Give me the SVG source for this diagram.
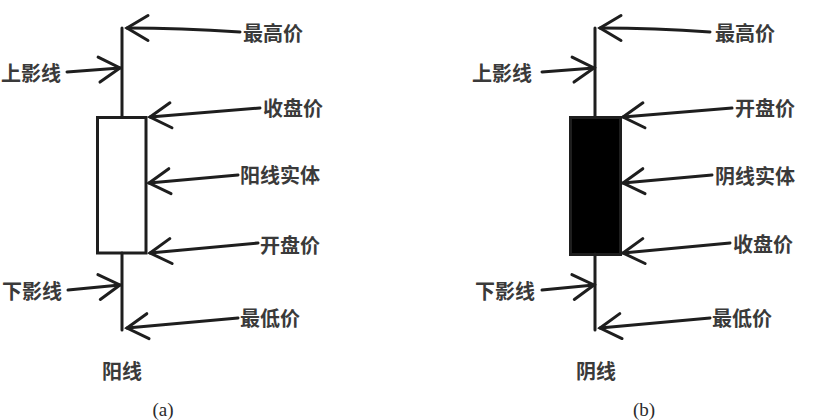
<svg xmlns="http://www.w3.org/2000/svg" width="816" height="420" viewBox="0 0 816 420">
<style>
.ln{stroke:#1e1e1e;stroke-width:3;fill:none;stroke-linecap:round}
.ar{stroke:#1e1e1e;stroke-width:3;fill:none;stroke-linecap:round;marker-end:url(#chev)}
.lb{font-family:"Noto Sans CJK SC",sans-serif;font-size:20px;font-weight:bold;fill:#3a3a3a;dominant-baseline:central}
.cap{font-family:"Liberation Serif",serif;font-size:19px;fill:#2b2b2b;text-anchor:middle;dominant-baseline:central}
</style>
<defs>
<marker id="chev" markerUnits="userSpaceOnUse" markerWidth="40" markerHeight="40" refX="0" refY="0" viewBox="-30 -20 40 40" orient="auto" overflow="visible">
<path d="M -21 -12.5 L 0 0 L -21 12.5" stroke="#1e1e1e" stroke-width="3" fill="none" stroke-linecap="round" stroke-linejoin="miter"/>
</marker>
</defs>
<rect width="816" height="420" fill="#ffffff"/>
<g id="candle-a">
<line class="ln" x1="122" y1="28" x2="122" y2="117"/>
<rect x="97.5" y="117.5" width="48.5" height="135.5" fill="#ffffff" stroke="#1e1e1e" stroke-width="3"/>
<line class="ln" x1="122" y1="253" x2="122" y2="330"/>
</g>
<g id="candle-b">
<line class="ln" x1="595" y1="28" x2="595" y2="117"/>
<rect x="570.5" y="117.5" width="50" height="137" fill="#000000" stroke="#1e1e1e" stroke-width="3"/>
<line class="ln" x1="595" y1="254" x2="595" y2="330"/>
</g>
<g id="connectors">
<path class="ar" d="M 240 32 Q 180 28 127 28"/>
<path class="ar" d="M 67 72 L 120 68"/>
<path class="ar" d="M 260 108 L 150 117"/>
<path class="ar" d="M 238 175 L 149 183"/>
<path class="ar" d="M 258 243 L 150 253"/>
<path class="ar" d="M 68 290 L 120 285"/>
<path class="ar" d="M 238 318 L 127 328"/>
<path class="ar" d="M 710 32 Q 655 28 600 28"/>
<path class="ar" d="M 542 72 L 594 68"/>
<path class="ar" d="M 732 108 L 623 117"/>
<path class="ar" d="M 712 175 L 623 183"/>
<path class="ar" d="M 730 243 L 623 253"/>
<path class="ar" d="M 542 290 L 594 285"/>
<path class="ar" d="M 710 318 L 600 328"/>
</g>
<g id="labels-a">
<text class="lb" x="243" y="32">最高价</text>
<text class="lb" x="1" y="72">上影线</text>
<text class="lb" x="263" y="107">收盘价</text>
<text class="lb" x="240" y="174">阳线实体</text>
<text class="lb" x="260" y="244">开盘价</text>
<text class="lb" x="2" y="290">下影线</text>
<text class="lb" x="240" y="317">最低价</text>
<text class="lb" x="122" y="370" text-anchor="middle">阳线</text>
<text class="cap" x="163" y="409">(a)</text>
</g>
<g id="labels-b">
<text class="lb" x="715" y="32">最高价</text>
<text class="lb" x="472" y="72">上影线</text>
<text class="lb" x="735" y="107">开盘价</text>
<text class="lb" x="715" y="175">阴线实体</text>
<text class="lb" x="733" y="243">收盘价</text>
<text class="lb" x="475" y="290">下影线</text>
<text class="lb" x="712" y="317">最低价</text>
<text class="lb" x="596" y="370" text-anchor="middle">阴线</text>
<text class="cap" x="644" y="409">(b)</text>
</g>
</svg>
